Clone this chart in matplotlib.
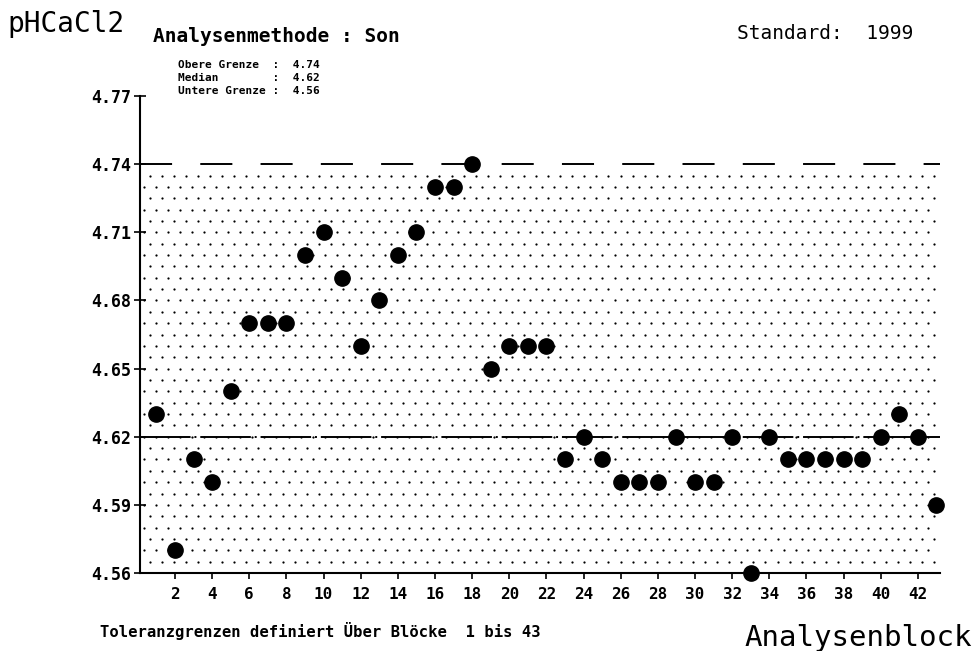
import matplotlib
matplotlib.use("Agg")
import matplotlib.pyplot as plt
import numpy as np

blocks = list(range(1, 44))
values = [4.63, 4.57, 4.61, 4.60, 4.64, 4.67, 4.67, 4.67, 4.70, 4.71,
          4.69, 4.66, 4.68, 4.70, 4.71, 4.73, 4.73, 4.74, 4.65, 4.66,
          4.66, 4.66, 4.61, 4.62, 4.61, 4.60, 4.60, 4.60, 4.62, 4.60,
          4.60, 4.62, 4.56, 4.62, 4.61, 4.61, 4.61, 4.61, 4.61, 4.62,
          4.63, 4.62, 4.59]
upper, median, lower = 4.74, 4.62, 4.56
y_ticks = [4.56, 4.59, 4.62, 4.65, 4.68, 4.71, 4.74, 4.77]
x_ticks = list(range(2, 43, 2))

plt.rcParams["font.family"] = ["DejaVu Sans Mono"]

fig = plt.figure(figsize=(9.74, 6.51), dpi=100)
ax = fig.add_axes([0.1437, 0.1198, 0.8214, 0.7327])

x_lo, x_hi = 0.117, 43.19
ax.set_xlim(x_lo, x_hi)
ax.set_ylim(lower, 4.77)

# stippled tolerance band (pattern only, below the upper limit)
step_y = 0.005
step_x = 0.65
rows = np.arange(lower, upper - step_y / 2, step_y)
for i, yy in enumerate(rows):
    off = 0.0 if i % 2 == 0 else step_x / 2
    xs = np.arange(x_lo + 0.2 + off, x_hi, step_x)
    ax.scatter(xs, np.full_like(xs, yy), s=2.6, color="black", lw=0, zorder=1)

ax.axhline(upper, color="black", lw=1.4, dashes=(16.5, 14.5), zorder=2)
ax.axhline(median, color="black", lw=1.4, dashes=(26, 2, 1, 2), zorder=2)

ax.plot(blocks, values, "o", color="black", ms=11, zorder=3, clip_on=False)

for s in ["top", "right"]:
    ax.spines[s].set_visible(False)
ax.spines["left"].set_linewidth(1.5)
ax.spines["bottom"].set_linewidth(1.5)

ax.set_yticks(y_ticks)
ax.set_yticklabels([f"{v:.2f}" for v in y_ticks], fontsize=12, fontweight="bold")
ax.set_xticks(x_ticks)
ax.set_xticklabels([str(v) for v in x_ticks], fontsize=11.5, fontweight="bold")
ax.tick_params(axis="y", direction="inout", length=8, width=1.2, pad=2)
ax.tick_params(axis="x", direction="out", length=4, width=1.2, pad=6)

fig.text(0.008, 0.951, "pHCaCl2", fontsize=20, ha="left", va="baseline")
fig.text(0.157, 0.936, "Analysenmethode : Son", fontsize=14, fontweight="bold",
         ha="left", va="baseline")
fig.text(0.757, 0.940, "Standard:  1999", fontsize=14, ha="left", va="baseline")
legend_lines = ["Obere Grenze  :  4.74", "Median        :  4.62", "Untere Grenze :  4.56"]
for line, yb in zip(legend_lines, [0.8955, 0.8755, 0.8555]):
    fig.text(0.183, yb, line, fontsize=8, fontweight="bold", ha="left", va="baseline")
fig.text(0.103, 0.0215, "Toleranzgrenzen definiert Über Blöcke  1 bis 43",
         fontsize=11.2, fontweight="bold", ha="left", va="baseline")
fig.text(0.998, 0.0075, "Analysenblock", fontsize=21, ha="right", va="baseline")

fig.savefig("out.png", dpi=100, facecolor="white")
